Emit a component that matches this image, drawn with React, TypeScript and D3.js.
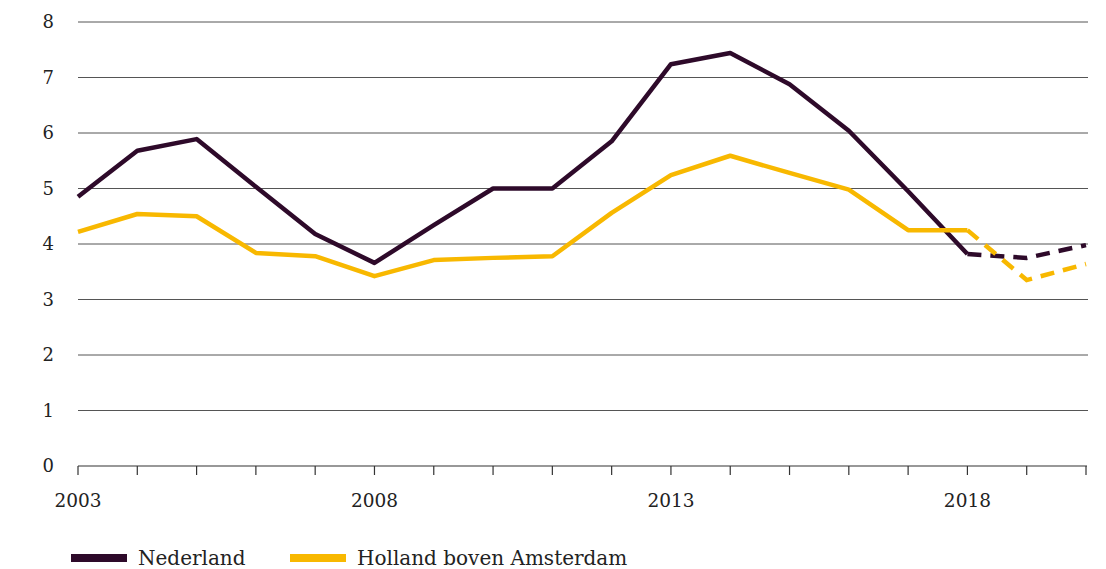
import React, { useEffect, useRef } from "react";
import * as d3 from "d3";

const years = d3.range(2003, 2021);
const nederland = [4.85, 5.68, 5.89, 5.03, 4.18, 3.66, 4.34, 5.0, 5.0, 5.85, 7.24, 7.44, 6.88, 6.04, 4.95, 3.82, 3.75, 3.98];
const hollandBoven = [4.22, 4.54, 4.5, 3.84, 3.78, 3.42, 3.71, 3.75, 3.78, 4.56, 5.24, 5.59, 5.28, 4.98, 4.25, 4.25, 3.35, 3.64];
const forecastFrom = 2018;
const yTicks = [0, 1, 2, 3, 4, 5, 6, 7, 8];
const xLabels = [2003, 2008, 2013, 2018];

const series = [
  { name: "Nederland", values: nederland, color: "#2e0a2a" },
  { name: "Holland boven Amsterdam", values: hollandBoven, color: "#f8b800" },
];

const App = () => {
  const svgRef = useRef(null);

  useEffect(() => {
    const width = 1106;
    const height = 569;
    const svg = d3.select(svgRef.current);
    svg.selectAll("*").remove();
    svg.attr("width", width).attr("height", height).style("background", "white");

    const x = d3.scaleLinear().domain([2003, 2020]).range([78, 1086]);
    const y = d3.scaleLinear().domain([0, 8]).range([466, 22]);
    const font = "'DejaVu Serif', 'Liberation Serif', serif";

    // gridlines
    svg
      .append("g")
      .selectAll("line")
      .data(yTicks.filter((d) => d > 0))
      .join("line")
      .attr("x1", 78)
      .attr("x2", 1088)
      .attr("y1", (d) => y(d))
      .attr("y2", (d) => y(d))
      .attr("stroke", "#555")
      .attr("stroke-width", 1);

    // y labels
    svg
      .append("g")
      .selectAll("text")
      .data(yTicks)
      .join("text")
      .attr("x", 54)
      .attr("y", (d) => y(d) + 6)
      .attr("text-anchor", "end")
      .attr("font-family", font)
      .attr("font-size", 18)
      .attr("fill", "#222")
      .text((d) => d);

    // x axis
    svg
      .append("line")
      .attr("x1", 78)
      .attr("x2", 1087)
      .attr("y1", y(0))
      .attr("y2", y(0))
      .attr("stroke", "#333")
      .attr("stroke-width", 1.2);
    svg
      .append("g")
      .selectAll("line")
      .data(years)
      .join("line")
      .attr("x1", (d) => x(d))
      .attr("x2", (d) => x(d))
      .attr("y1", y(0))
      .attr("y2", y(0) + 9)
      .attr("stroke", "#333")
      .attr("stroke-width", 1.2);
    svg
      .append("g")
      .selectAll("text")
      .data(xLabels)
      .join("text")
      .attr("x", (d) => x(d))
      .attr("y", 507)
      .attr("text-anchor", "middle")
      .attr("font-family", font)
      .attr("font-size", 18.5)
      .attr("fill", "#222")
      .text((d) => d);

    const line = d3
      .line<[number, number]>()
      .x((d) => x(d[0]))
      .y((d) => y(d[1]));

    series.forEach((s) => {
      const pts: [number, number][] = years.map((yr, i) => [yr, s.values[i]]);
      const solid = pts.filter((p) => p[0] <= forecastFrom);
      const dashed = pts.filter((p) => p[0] >= forecastFrom);
      svg
        .append("path")
        .attr("d", line(solid))
        .attr("fill", "none")
        .attr("stroke", s.color)
        .attr("stroke-width", 4.5)
        .attr("stroke-linejoin", "round");
      svg
        .append("path")
        .attr("d", line(dashed))
        .attr("fill", "none")
        .attr("stroke", s.color)
        .attr("stroke-width", 4.5)
        .attr("stroke-dasharray", "14 9");
    });

    // legend
    const legend = svg.append("g");
    const legendX = [71, 290];
    series.forEach((s, i) => {
      legend
        .append("line")
        .attr("x1", legendX[i])
        .attr("x2", legendX[i] + 56)
        .attr("y1", 558)
        .attr("y2", 558)
        .attr("stroke", s.color)
        .attr("stroke-width", 8);
      legend
        .append("text")
        .attr("x", legendX[i] + 67)
        .attr("y", 565)
        .attr("font-family", font)
        .attr("font-size", 20)
        .attr("fill", "#222")
        .text(s.name);
    });
  }, []);

  return (
    <div style={{ position: "fixed", top: 0, left: 0 }}>
      <svg ref={svgRef}></svg>
    </div>
  );
};

export default App;
